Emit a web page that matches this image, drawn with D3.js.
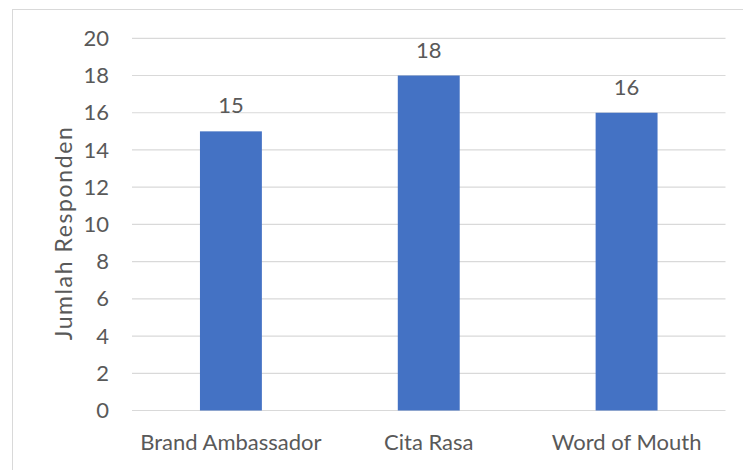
<!DOCTYPE html>
<html lang="en">
<head>
    <meta charset="UTF-8">
    <title>Jumlah Responden</title>
    <style>
        body { margin: 0; background: #fff; }
        text { font-family: Lato, "Open Sans", sans-serif; fill: #595959; }
    </style>
</head>
<body>
<script src="https://d3js.org/d3.v7.min.js"></script>
<script>
    var categories = ["Brand Ambassador", "Cita Rasa", "Word of Mouth"];
    var values = [15, 18, 16];
    var yTicks = [0, 2, 4, 6, 8, 10, 12, 14, 16, 18, 20];

    var W = 743, H = 470;
    var margin = {top: 38.3, right: 17.5, bottom: 59.5, left: 132};

    var svg = d3.select("body").append("svg")
        .attr("width", W)
        .attr("height", H);

    // chart border
    svg.append("rect")
        .attr("x", 12.5).attr("y", 9.5)
        .attr("width", W).attr("height", H)
        .attr("fill", "none")
        .attr("stroke", "#d9d9d9");

    var x = d3.scaleBand()
        .domain(categories)
        .range([margin.left, W - margin.right])
        .paddingInner(0.687)
        .paddingOuter(0.3435);

    var y = d3.scaleLinear()
        .domain([0, 20])
        .range([H - margin.bottom, margin.top]);

    // gridlines
    svg.append("g")
        .selectAll("line")
        .data(yTicks)
        .enter()
        .append("line")
        .attr("x1", margin.left)
        .attr("x2", W - margin.right)
        .attr("y1", function(d) { return y(d); })
        .attr("y2", function(d) { return y(d); })
        .attr("stroke", "#d9d9d9")
        .attr("stroke-width", 1.2);

    // y axis labels
    var yAxis = d3.axisLeft(y).tickValues(yTicks).tickSize(0).tickPadding(0);
    var gy = svg.append("g")
        .attr("transform", "translate(109,0)")
        .call(yAxis);
    gy.select(".domain").remove();
    gy.selectAll("text")
        .style("font-family", "Lato, 'Open Sans', sans-serif")
        .style("font-size", "22px")
        .attr("fill", "#595959");

    // bars
    svg.append("g")
        .selectAll("rect")
        .data(values)
        .enter()
        .append("rect")
        .attr("x", function(d, i) { return x(categories[i]); })
        .attr("y", function(d) { return y(d); })
        .attr("width", x.bandwidth())
        .attr("height", function(d) { return y(0) - y(d); })
        .attr("fill", "#4472c4");

    // value labels
    svg.append("g")
        .selectAll("text")
        .data(values)
        .enter()
        .append("text")
        .attr("x", function(d, i) { return x(categories[i]) + x.bandwidth() / 2; })
        .attr("y", function(d) { return y(d) - 18; })
        .attr("text-anchor", "middle")
        .style("font-size", "22px")
        .attr("fill", "#404040")
        .text(function(d) { return d; });

    // x axis labels
    var xAxis = d3.axisBottom(x).tickSize(0).tickPadding(0);
    var gx = svg.append("g")
        .attr("transform", "translate(0," + (H - margin.bottom) + ")")
        .call(xAxis);
    gx.select(".domain").remove();
    gx.selectAll("text")
        .attr("dy", null)
        .attr("y", 39.5)
        .style("font-family", "Lato, 'Open Sans', sans-serif")
        .style("font-size", "22px")
        .attr("fill", "#595959");

    // y axis title
    svg.append("text")
        .attr("transform", "translate(72,233) rotate(-90)")
        .attr("text-anchor", "middle")
        .style("font-size", "23px")
        .style("letter-spacing", "1.6px")
        .text("Jumlah Responden");
</script>
</body>
</html>
